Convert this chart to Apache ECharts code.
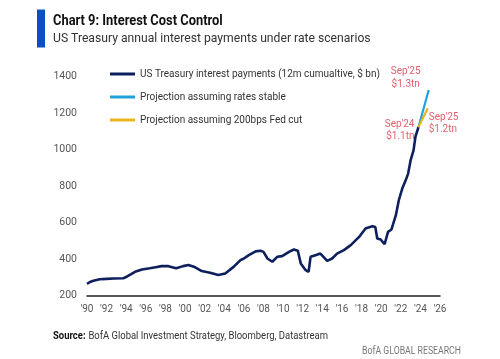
<!DOCTYPE html>
<html><head><meta charset="utf-8">
<script src="https://cdn.jsdelivr.net/npm/echarts@6/dist/echarts.min.js"></script>
<style>html,body{margin:0;padding:0;background:#fff}#c{width:500px;height:359px}</style>
</head><body><div id="c"></div>
<script>
// Main series: [decimal year, $bn]
const mainYears = [1990.0,1990.3,1990.65,1991.3,1992.0,1992.7,1993.7,1994.05,1994.5,1994.9,1995.6,1996.4,1997.0,1997.6,1998.3,1999.1,1999.8,2000.35,2000.9,2001.7,2002.55,2003.4,2004.1,2004.95,2005.65,2006.0,2006.5,2007.2,2007.7,2008.0,2008.4,2008.9,2009.4,2009.9,2010.6,2011.1,2011.5,2011.8,2012.3,2012.6,2012.8,2013.3,2013.8,2014.5,2015.0,2015.5,2016.2,2016.9,2017.75,2018.4,2019.1,2019.4,2019.6,2019.95,2020.35,2020.7,2021.05,2021.5,2021.8,2022.15,2022.5,2022.75,2023.0,2023.3,2023.5,2023.8];
const mainValues = [265,275,282,290,292,294,296,304,318,331,344,350,356,362,362,350,362,368,359,335,326,313,322,358,395,404,422,443,446,440,404,386,413,417,440,453,446,377,340,331,413,422,431,391,404,431,450,477,522,568,581,577,513,508,482,550,563,641,723,787,832,869,941,996,1072,1123];
const stableYears = [2023.8, 2024.85];
const stableValues = [1123, 1327];
const cutYears = [2023.8, 2024.75];
const cutValues = [1123, 1227];
const seriesNames = ['US Treasury interest payments (12m cumualtive, $ bn)','Projection assuming rates stable','Projection assuming 200bps Fed cut'];
const annotations = ["Sep'24\n$1.1tn", "Sep'25\n$1.3tn", "Sep'25\n$1.2tn"];

const zip = (xs, ys) => xs.map((x, i) => [x, ys[i]]);
const FONT = 'Roboto,"Liberation Sans",sans-serif';
const RED = '#e0606c';
const annLabel = (txt, pos, align) => ({
  show: true, formatter: txt, position: pos, align: align, verticalAlign: 'middle',
  color: RED, fontSize: 10, lineHeight: 12.5, fontFamily: FONT
});

const chart = echarts.init(document.getElementById('c'), null, {renderer: 'canvas'});
chart.setOption({
  animation: false,
  backgroundColor: '#fff',
  grid: {left: 87, right: 60, top: 76.7, bottom: 63.3},
  legend: {
    orient: 'vertical', left: 110, top: 67, padding: 0, itemWidth: 25, itemHeight: 3, itemGap: 9,
    icon: 'rect',
    data: seriesNames,
    textStyle: {fontFamily: FONT, fontSize: 10, color: '#333', lineHeight: 14}
  },
  xAxis: {
    type: 'value', min: 1990, max: 2026, interval: 2,
    splitLine: {show: false},
    axisTick: {show: false},
    axisLine: {show: true, lineStyle: {color: '#222', width: 1.5}},
    axisLabel: {margin: 9, color: '#555', fontSize: 10, fontFamily: FONT,
      formatter: v => "'" + String(v).slice(2)}
  },
  yAxis: {
    type: 'value', min: 200, max: 1400, interval: 200,
    splitLine: {show: false}, axisTick: {show: false}, axisLine: {show: false},
    axisLabel: {margin: 10, color: '#555', fontSize: 10.5, fontFamily: FONT, formatter: v => String(v)}
  },
  series: [
    {name: seriesNames[0], type: 'line', data: zip(mainYears, mainValues), showSymbol: false, symbol: 'none',
     color: '#0d1f5c', lineStyle: {width: 2.6, color: '#0d1f5c'}, z: 3,
     markPoint: {symbol: 'circle', symbolSize: 0, data: [
       {coord: [mainYears[mainYears.length-1], mainValues[mainValues.length-1]], label: annLabel(annotations[0], [-4, 3], 'right')}
     ]}},
    {name: seriesNames[1], type: 'line', data: zip(stableYears, stableValues), showSymbol: false, symbol: 'none',
     color: '#20a2db', lineStyle: {width: 2.2, color: '#20a2db'}, z: 2,
     markPoint: {symbol: 'circle', symbolSize: 0, data: [
       {coord: [stableYears[1], stableValues[1]], label: annLabel(annotations[1], [-23, -12], 'center')}
     ]}},
    {name: seriesNames[2], type: 'line', data: zip(cutYears, cutValues), showSymbol: false, symbol: 'none',
     color: '#e8b51e', lineStyle: {width: 2.2, color: '#e8b51e'}, z: 2,
     markPoint: {symbol: 'circle', symbolSize: 0, data: [
       {coord: [cutYears[1], cutValues[1]], label: annLabel(annotations[2], [1, 15], 'left')}
     ]}}
  ],
  graphic: [
    {type: 'rect', shape: {x: 37, y: 9.5, width: 8, height: 38}, style: {fill: '#0b4fc4'}},
    {type: 'text', x: 53, y: 14, scaleX: 0.92, style: {text: 'Chart 9: Interest Cost Control', font: 'bold 14px ' + FONT, fill: '#111', verticalAlign: 'top'}},
    {type: 'text', x: 53, y: 32, scaleX: 0.9, style: {text: 'US Treasury annual interest payments under rate scenarios', font: '13.5px ' + FONT, fill: '#333', verticalAlign: 'top'}},
    {type: 'text', x: 53, y: 330, scaleX: 0.86, style: {rich: {b: {font: 'bold 11px ' + FONT, fill: '#111'}, n: {font: '11px ' + FONT, fill: '#333'}},
      text: '{b|Source:} {n|BofA Global Investment Strategy, Bloomberg, Datastream}', verticalAlign: 'top'}},
    {type: 'text', x: 362, y: 346, scaleX: 0.83, style: {text: 'BofA GLOBAL RESEARCH', font: '10.5px ' + FONT, fill: '#777', verticalAlign: 'top'}}
  ]
});
</script>
</body></html>
